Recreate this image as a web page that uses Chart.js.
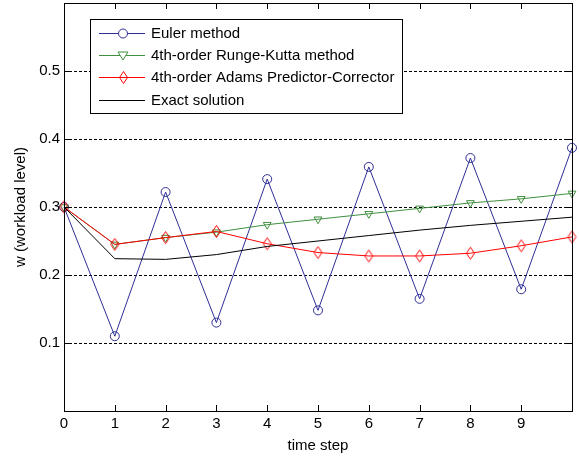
<!DOCTYPE html>
<html>
<head>
<meta charset="utf-8">
<script src="https://cdn.jsdelivr.net/npm/chart.js@4/dist/chart.umd.min.js"></script>
<style>
html,body{margin:0;padding:0;background:#fff;}
#c{display:block;}
</style>
</head>
<body>
<canvas id="c" width="579" height="459"></canvas>
<script>
// ---- data ----
const steps = [0, 1, 2, 3, 4, 5, 6, 7, 8, 9, 10];
const euler = [0.300, 0.110, 0.322, 0.130, 0.341, 0.148, 0.359, 0.165, 0.372, 0.179, 0.387];
const rungeKutta = [0.300, 0.245, 0.255, 0.263, 0.274, 0.282, 0.290, 0.298, 0.306, 0.312, 0.320];
const adams = [0.300, 0.245, 0.255, 0.264, 0.246, 0.233, 0.228, 0.228, 0.232, 0.243, 0.256];
const exact = [0.300, 0.224, 0.223, 0.230, 0.242, 0.250, 0.258, 0.266, 0.273, 0.279, 0.285];
const seriesLabels = ['Euler method', '4th-order Runge-Kutta method', '4th-order Adams Predictor-Corrector', 'Exact solution'];
const xTickLabels = ['0', '1', '2', '3', '4', '5', '6', '7', '8', '9', ''];
const yTickLabels = {'0.1': '0.1', '0.2': '0.2', '0.3': '0.3', '0.4': '0.4', '0.5': '0.5'};

const BLUE = '#2e2e96', GREEN = '#3f8f3f', RED = '#ff0000', BLACK = '#000000';
const FONT = 'Liberation Sans, Arial, Helvetica, sans-serif';

function diamondImage(color) {
  const cv = document.createElement('canvas');
  cv.width = 11; cv.height = 15;
  const g = cv.getContext('2d');
  g.strokeStyle = color; g.lineWidth = 1;
  g.beginPath();
  g.moveTo(5.5, 1.5); g.lineTo(9.5, 7.5); g.lineTo(5.5, 13.5); g.lineTo(1.5, 7.5); g.closePath();
  g.stroke();
  return cv;
}
const diamond = diamondImage(RED);

const pts = arr => steps.map((s, i) => ({x: s, y: arr[i]}));

const datasets = [
  {label: seriesLabels[0], data: pts(euler), borderColor: BLUE, backgroundColor: 'rgba(0,0,0,0)',
   borderWidth: 1, pointStyle: 'circle', pointRadius: 4.5, pointBorderColor: BLUE, pointBorderWidth: 1, order: 4, clip: false},
  {label: seriesLabels[1], data: pts(rungeKutta), borderColor: GREEN, backgroundColor: 'rgba(0,0,0,0)',
   borderWidth: 1, pointStyle: 'triangle', rotation: 180, pointRadius: 4.5, pointBorderColor: GREEN, pointBorderWidth: 1, order: 3, clip: false},
  {label: seriesLabels[2], data: pts(adams), borderColor: RED, backgroundColor: 'rgba(0,0,0,0)',
   borderWidth: 1, pointStyle: diamond, pointRadius: 5, order: 2, clip: false},
  {label: seriesLabels[3], data: pts(exact), borderColor: BLACK, backgroundColor: 'rgba(0,0,0,0)',
   borderWidth: 1, pointRadius: 0, order: 1, clip: false}
];

const frame = {
  id: 'frame',
  afterDraw(chart) {
    const ctx = chart.ctx, a = chart.chartArea;
    const xs = chart.scales.x, ys = chart.scales.y;
    ctx.save();
    ctx.strokeStyle = '#000'; ctx.lineWidth = 1;
    // inner tick marks
    ctx.beginPath();
    xs.ticks.forEach(t => {
      const px = Math.round(xs.getPixelForValue(t.value)) + 0.5;
      ctx.moveTo(px, a.bottom); ctx.lineTo(px, a.bottom - 6);
      ctx.moveTo(px, a.top); ctx.lineTo(px, a.top + 6);
    });
    ys.ticks.forEach(t => {
      const py = Math.round(ys.getPixelForValue(t.value)) + 0.5;
      ctx.moveTo(a.left, py); ctx.lineTo(a.left + 6, py);
      ctx.moveTo(a.right, py); ctx.lineTo(a.right - 6, py);
    });
    ctx.stroke();
    ctx.strokeRect(Math.round(a.left) + 0.5, Math.round(a.top) + 0.5,
                   Math.round(a.right - a.left), Math.round(a.bottom - a.top));
    // legend
    const lx = 90.5, ly = 19.5, lw = 312, lh = 94;
    ctx.fillStyle = '#fff';
    ctx.fillRect(lx, ly, lw, lh);
    ctx.strokeRect(lx, ly, lw, lh);
    const rows = [32.5, 55, 77, 99.5];
    ctx.font = '15px ' + FONT;
    ctx.textBaseline = 'middle';
    ctx.textAlign = 'left';
    chart.data.datasets.forEach((ds, i) => {
      const y = Math.round(rows[i]) + 0.5;
      ctx.strokeStyle = ds.borderColor; ctx.lineWidth = 1;
      ctx.beginPath(); ctx.moveTo(99, y); ctx.lineTo(145, y); ctx.stroke();
      const cx = 123;
      if (ds.pointStyle === 'circle') {
        ctx.beginPath(); ctx.arc(cx, y, 4.5, 0, Math.PI * 2); ctx.fillStyle = '#fff'; ctx.fill(); ctx.stroke();
      } else if (ds.pointStyle === 'triangle') {
        ctx.beginPath(); ctx.moveTo(cx - 5, y - 3.5); ctx.lineTo(cx + 5, y - 3.5); ctx.lineTo(cx, y + 4.5); ctx.closePath();
        ctx.fillStyle = '#fff'; ctx.fill(); ctx.stroke();
      } else if (ds.pointStyle instanceof HTMLCanvasElement) {
        ctx.drawImage(ds.pointStyle, Math.round(cx - ds.pointStyle.width / 2), Math.round(y - ds.pointStyle.height / 2));
      }
      ctx.fillStyle = '#000';
      ctx.fillText(ds.label, 151, y);
    });
    ctx.restore();
  }
};

new Chart(document.getElementById('c'), {
  type: 'line',
  data: {datasets},
  options: {
    responsive: false,
    animation: false,
    layout: {autoPadding: false, padding: {top: 3, right: 7, left: 0, bottom: 0}},
    plugins: {legend: {display: false}, tooltip: {enabled: false}},
    scales: {
      x: {
        type: 'linear', min: 0, max: 10,
        border: {display: false},
        grid: {display: false, drawTicks: false},
        ticks: {stepSize: 1, autoSkip: false, maxRotation: 0, padding: 4, color: '#000',
                font: {family: FONT, size: 15},
                callback: (v) => xTickLabels[steps.indexOf(v)] ?? ''},
        title: {display: true, text: 'time step', color: '#000', font: {family: FONT, size: 15}, padding: {top: 0, bottom: 4}},
        afterFit: s => { s.height = 48; s.paddingLeft = 0; s.paddingRight = 0; }
      },
      y: {
        type: 'linear', min: 0, max: 0.6,
        border: {display: false, dash: [3, 2]},
        grid: {drawTicks: false, lineWidth: 1,
               color: c => (c.tick && yTickLabels[c.tick.value.toFixed(1)] ? '#000' : 'rgba(0,0,0,0)')},
        ticks: {stepSize: 0.1, autoSkip: false, padding: 4, color: '#000',
                font: {family: FONT, size: 15},
                callback: (v) => yTickLabels[Number(v).toFixed(1)] ?? ''},
        title: {display: true, text: 'w (workload level)', color: '#000', font: {family: FONT, size: 15}, padding: {top: 12, bottom: 0}},
        afterFit: s => { s.width = 64; s.paddingTop = 0; s.paddingBottom = 0; }
      }
    }
  },
  plugins: [frame]
});
</script>
</body>
</html>
